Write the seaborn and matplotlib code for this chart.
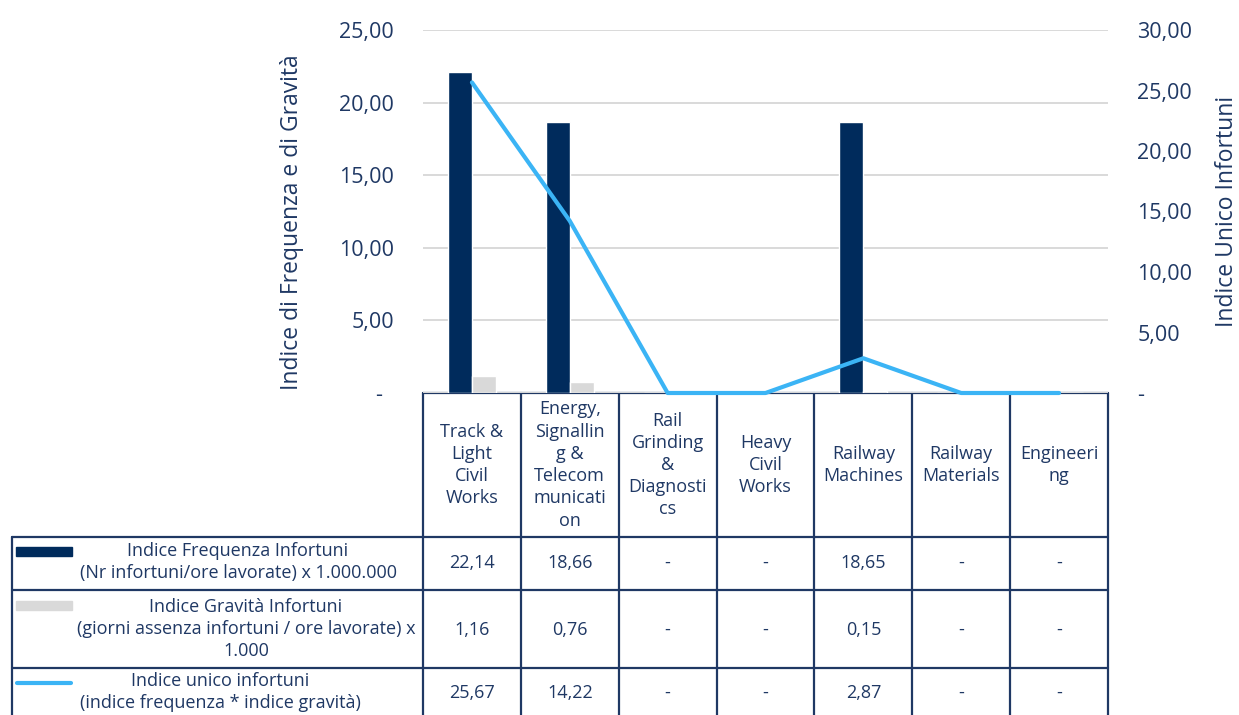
import numpy as np
import pandas as pd
import matplotlib
matplotlib.use("Agg")
import matplotlib.pyplot as plt
import seaborn as sns

# ---------------------------------------------------------
# DATA
# ---------------------------------------------------------
categories = [
    "Track &\nLight\nCivil\nWorks",
    "Energy,\nSignallin\ng &\nTelecom\nmunicati\non",
    "Rail\nGrinding\n&\nDiagnosti\ncs",
    "Heavy\nCivil\nWorks",
    "Railway\nMachines",
    "Railway\nMaterials",
    "Engineeri\nng",
]
freq = [22.14, 18.66, 0, 0, 18.65, 0, 0]
grav = [1.16, 0.76, 0, 0, 0.15, 0, 0]
unico = [25.67, 14.22, 0, 0, 2.87, 0, 0]

series_names = [
    "Indice Frequenza Infortuni\n(Nr infortuni/ore lavorate) x 1.000.000",
    "Indice Gravità Infortuni\n(giorni assenza infortuni / ore lavorate) x\n1.000",
    "Indice unico infortuni\n(indice frequenza * indice gravità)",
]
left_label = "Indice di Frequenza e di Gravità"
right_label = "Indice Unico Infortuni"

# ---------------------------------------------------------
# STYLE
# ---------------------------------------------------------
sns.set_theme(style="white")
plt.rcParams["font.family"] = ["Open Sans", "DejaVu Sans"]

NAVY = "#002B5C"
GREY = "#D9D9D9"
BLUE = "#3BB4F5"
TEXT = "#1F3864"
GRID = "#D9D9D9"
TICK_FS = 15.5
LABEL_FS = 16.5
TABLE_FS = 13

W, H = 1239, 715
fig = plt.figure(figsize=(W / 100, H / 100), dpi=100)

# pixel-space overlay for the data table
tab = fig.add_axes([0, 0, 1, 1], zorder=0)
tab.set_xlim(0, W)
tab.set_ylim(H, 0)
tab.axis("off")
tab.patch.set_visible(False)

# plot area
PL, PR, PT, PB = 423, 1108, 30, 393
ax = fig.add_axes([PL / W, (H - PB) / H, (PR - PL) / W, (PB - PT) / H], zorder=2)
ax.patch.set_alpha(0)

bars_df = pd.DataFrame({
    "Categoria": categories * 2,
    "Valore": freq + grav,
    "Serie": ["freq"] * len(categories) + ["grav"] * len(categories),
})
sns.barplot(data=bars_df, x="Categoria", y="Valore", hue="Serie",
            palette=[NAVY, GREY], width=0.49, saturation=1, gap=0,
            legend=False, ax=ax, zorder=2)

ax2 = ax.twinx()
sns.lineplot(x=np.arange(len(categories)), y=unico, sort=False, color=BLUE,
             lw=3.0, ax=ax2, clip_on=False, zorder=3, solid_capstyle="round")


def fmt(v, pos=None):
    if v == 0:
        return "-"
    return f"{v:.2f}".replace(".", ",")


ax.set_ylim(0, 25)
ax.set_yticks(np.arange(0, 26, 5))
ax.set_yticklabels([fmt(v) + ("  " if v == 0 else "") for v in np.arange(0, 26, 5)])
ax2.set_ylim(0, 30)
ax2.set_yticks(np.arange(0, 31, 5))
ax2.set_yticklabels([fmt(v) for v in np.arange(0, 31, 5)])
ax.set_xlim(-0.5, len(categories) - 0.5)

ax.grid(axis="y", color=GRID, lw=1.4)
ax.grid(axis="x", visible=False)
ax2.grid(False)
ax.set_axisbelow(True)
for a in (ax, ax2):
    for s in a.spines.values():
        s.set_visible(False)
    a.tick_params(axis="y", length=0, pad=21, labelsize=TICK_FS, labelcolor=TEXT)
ax.set_xticks([])
ax.set_xlabel("")
ax.set_ylabel(left_label, fontsize=LABEL_FS, color=TEXT, va="center", rotation=90)
ax.yaxis.set_label_coords((292 - PL) / (PR - PL), 0.47)
ax2.set_ylabel(right_label, fontsize=LABEL_FS, color=TEXT, va="center", rotation=90)
ax2.yaxis.set_label_coords((1227 - PL) / (PR - PL), 0.5)

# ---------------------------------------------------------
# DATA TABLE
# ---------------------------------------------------------
n = len(categories)
col_w = (PR - PL) / n
edges = [PL + i * col_w for i in range(n + 1)]
row_lines = [537, 590, 668]
LW = 1.6

tab.plot([PL, PR], [PB, PB], color=TEXT, lw=LW)
for x in edges:
    tab.plot([x, x], [PB, H + 5], color=TEXT, lw=LW)
tab.plot([12, 12], [row_lines[0], H + 5], color=TEXT, lw=LW)
for y in row_lines:
    tab.plot([12, PR], [y, y], color=TEXT, lw=LW)

for i, cat in enumerate(categories):
    tab.text(PL + (i + 0.5) * col_w, 465, cat, ha="center", va="center",
             multialignment="center", fontsize=TABLE_FS, color=TEXT, linespacing=1.3)

row_y = [563, 630, 693]
label_x = [238, 246, 220]
for vals, y in zip([freq, grav, unico], row_y):
    for i, v in enumerate(vals):
        tab.text(PL + (i + 0.5) * col_w, y, fmt(v), ha="center", va="center",
                 fontsize=TABLE_FS, color=TEXT)
for name, y, x in zip(series_names, row_y, label_x):
    tab.text(x, y - 1, name, ha="center", va="center", multialignment="center",
             fontsize=TABLE_FS, color=TEXT, linespacing=1.3)

# legend keys
tab.add_patch(plt.Rectangle((16, 547), 56, 9, color=NAVY))
tab.add_patch(plt.Rectangle((16, 601), 56, 9, color=GREY))
tab.plot([17, 71], [683, 683], color=BLUE, lw=3.0, solid_capstyle="round")

fig.savefig("out.png", dpi=100)
